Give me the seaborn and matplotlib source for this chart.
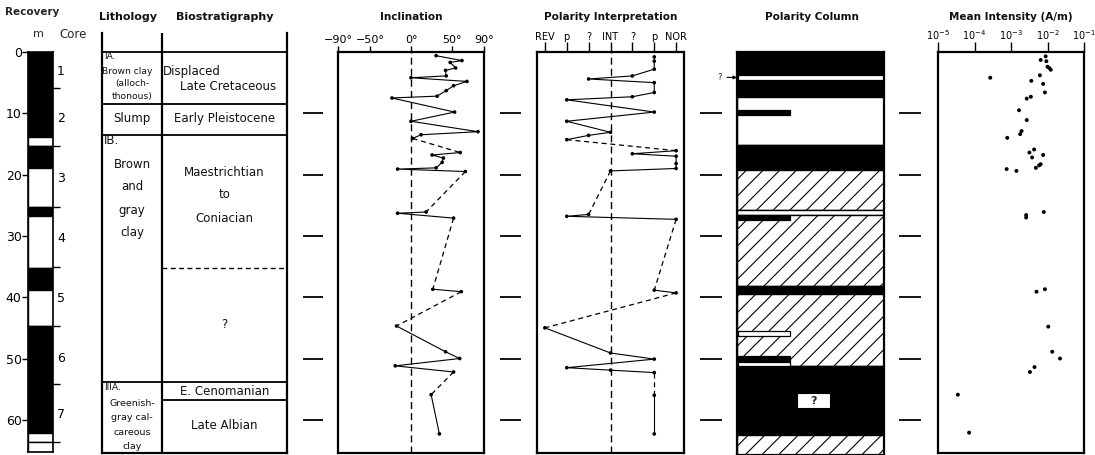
import numpy as np
import matplotlib
matplotlib.use("Agg")
import matplotlib.pyplot as plt
import seaborn as sns

sns.set_theme(style="white")
plt.rcParams["font.family"] = ["DejaVu Sans"]
plt.rcParams["hatch.linewidth"] = 0.8
plt.rcParams["hatch.color"] = "black"

W, H = 1095, 455
PX_TOP = 52.0      # pixel row of 0 m
PX_PER_M = 6.13    # pixels per metre of depth

# ---------------- depth scale ----------------
depth_ticks = [0, 10, 20, 30, 40, 50, 60]
gutter_marks = [10, 20, 30, 40, 50, 60]

# ---------------- recovery ----------------
recovery_top = [0, 13.9, 15.3, 18.9, 25.3, 26.8, 35.3, 38.9, 44.7, 62.2, 63.7]
recovery_bottom = [13.9, 15.3, 18.9, 25.3, 26.8, 35.3, 38.9, 44.7, 62.2, 63.7, 65.2]
recovery_filled = [1, 0, 1, 0, 1, 0, 1, 0, 1, 0, 0]
core_boundaries = [5.9, 15.4, 25.3, 35.1, 44.7, 54.2, 63.7]
core_numbers = ["1", "2", "3", "4", "5", "6", "7"]
core_label_depths = [2.9, 10.6, 20.4, 30.1, 39.9, 49.7, 58.9]

# ---------------- lithology / biostratigraphy ----------------
lith_bounds = [0, 8.5, 13.5, 53.9]
bio_only_bounds = [56.8]
bio_uncertain_bounds = [35.2]

# ---------------- inclination (degrees) ----------------
incl_deg = [31.0, 62.8, 48.3, 55.0, 42.6, 43.4, 0.0, 69.0, 52.5, 43.4, 32.2,
            -23.5, 53.7, 0.0, 82.6, 12.4, 2.0,
            60.7, 26.0, 40.0, 38.4, 31.0, -16.5, 67.0,
            18.6, -16.5, 52.5,
            26.9, 62.0,
            -17.8, 42.6, 60.0, -19.4, 52.5,
            24.8, 35.0]
incl_depth = [0.6, 1.4, 1.7, 2.6, 3.0, 3.9, 4.2, 4.8, 5.5, 6.3, 7.2,
              7.5, 9.8, 11.3, 13.0, 13.5, 14.1,
              16.4, 16.8, 17.3, 18.0, 18.9, 19.1, 19.5,
              26.1, 26.3, 27.1,
              38.7, 39.1,
              44.7, 48.9, 50.0, 51.2, 52.2,
              55.9, 62.3]
incl_dashed_after = [16, 23, 26, 28, 33]

# ---------------- polarity interpretation ----------------
polarity_labels = ["REV", "p", "?", "INT", "?", "p", "NOR"]
polarity_levels = [-3, -2, -1, 0, 1, 2, 3]
pol_value = [2, 2, 2, 1, -1, 2, 2, 1, -2, 2, -2, 0, -1, -2,
             3, 1, 3, 3, 3, 0,
             -1, -2, 3,
             2, 3,
             -3, 0, 2, -2, 0, 2,
             2, 2]
pol_depth = [0.8, 1.5, 2.8, 3.9, 4.4, 5.0, 6.6, 7.3, 7.8, 9.8, 11.3, 13.1, 13.6, 14.3,
             16.1, 16.6, 17.0, 18.2, 19.0, 19.4,
             26.5, 26.8, 27.3,
             38.85, 39.3,
             45.0, 49.1, 50.1, 51.5, 51.9, 52.3,
             56.0, 62.3]
pol_dashed_after = [13, 19, 22, 24, 30]

# ---------------- polarity column ----------------
# kind: "N" normal (black), "R" reversed (white), "X" uncertain (hatched)
col_top = [0, 7.3, 15.2, 19.25, 25.7, 26.6, 38.2, 39.5, 51.3, 62.5]
col_bottom = [7.3, 15.2, 19.25, 25.7, 26.6, 38.2, 39.5, 51.3, 62.5, 66.0]
col_kind = ["N", "R", "N", "X", "R", "X", "N", "X", "N", "X"]
# short partial-width bands
band_top = [3.75, 9.5, 26.7, 45.5, 49.6, 50.5]
band_bottom = [4.55, 10.3, 27.4, 46.4, 50.5, 51.3]
band_width = [0.985, 0.35, 0.35, 0.35, 0.35, 0.35]
band_kind = ["R", "N", "N", "R", "N", "R"]

# ---------------- mean intensity (A/m) ----------------
intensity = [8.9e-3, 6.5e-3, 9.3e-3, 1.0e-2, 1.12e-2, 1.23e-2, 6.2e-3, 2.7e-4,
             3.6e-3, 7.6e-3, 8.5e-3, 3.5e-3, 2.7e-3, 1.66e-3, 2.7e-3, 1.95e-3,
             1.78e-3, 7.9e-4, 4.3e-3, 3.2e-3, 7.6e-3, 3.8e-3, 6.5e-3, 5.9e-3,
             4.8e-3, 7.6e-4, 1.41e-3, 7.9e-3, 2.6e-3, 2.6e-3, 8.5e-3, 5.0e-3,
             1.05e-2, 1.35e-2, 2.2e-2, 4.4e-3, 3.3e-3, 3.5e-5, 7.1e-5]
intensity_depth = [0.7, 1.3, 1.5, 2.4, 2.6, 2.9, 3.8, 4.2, 4.7, 5.2, 6.6, 7.3,
                   7.6, 9.5, 11.1, 12.9, 13.4, 14.0, 15.9, 16.4, 16.8, 17.2,
                   18.3, 18.5, 18.9, 19.1, 19.4, 26.1, 26.6, 27.0, 38.7, 39.1,
                   44.8, 48.9, 50.0, 51.4, 52.2, 55.9, 62.1]
intensity_ticks = [1e-5, 1e-4, 1e-3, 1e-2, 1e-1]

fig = plt.figure(figsize=(W / 100, H / 100), dpi=100)
fig.patch.set_facecolor("white")


def px_axes(x0, x1, y0, y1):
    """Axes placed by pixel box, with a shared metre depth scale."""
    ax = fig.add_axes([x0 / W, 1 - y1 / H, (x1 - x0) / W, (y1 - y0) / H])
    ax.set_ylim((y1 - PX_TOP) / PX_PER_M, (y0 - PX_TOP) / PX_PER_M)
    ax.set_facecolor("white")
    return ax


def framed(ax, lw=1.6):
    for s in ax.spines.values():
        s.set_visible(True)
        s.set_linewidth(lw)
        s.set_color("black")
    ax.set_yticks([])
    ax.set_xlabel("")
    ax.set_ylabel("")


def title(x, text, size=7.5, y=17):
    fig.text(x / W, 1 - y / H, text, ha="center", va="center",
             fontsize=size, fontweight="bold", color="#111111")


def draw_trace(ax, xs, ds, dashed_after):
    xs = np.asarray(xs, dtype=float)
    ds = np.asarray(ds, dtype=float)
    cuts = [0] + [i + 1 for i in dashed_after] + [len(xs)]
    for a, b in zip(cuts[:-1], cuts[1:]):
        if b - a > 1:
            sns.lineplot(x=xs[a:b], y=ds[a:b], sort=False, estimator=None,
                         color="black", lw=0.8, ax=ax)
    for i in dashed_after:
        sns.lineplot(x=xs[i:i + 2], y=ds[i:i + 2], sort=False, estimator=None,
                     color="black", lw=0.9, ls=(0, (4, 3)), ax=ax)
    sns.scatterplot(x=xs, y=ds, s=7, color="black", edgecolor="none", ax=ax,
                    zorder=4)
    ax.set_xlabel("")
    ax.set_ylabel("")


# ---------------- gutter depth marks ----------------
for gx0, gx1 in [(303, 323), (500, 521), (700, 722), (899, 921)]:
    g = px_axes(gx0, gx1, 52, 453)
    g.set_xlim(0, 1)
    g.hlines(gutter_marks, 0, 1, color="black", lw=1.3)
    g.axis("off")

# ---------------- recovery column ----------------
rec = px_axes(28, 53, 52, 452)
for t, b, f in zip(recovery_top, recovery_bottom, recovery_filled):
    rec.bar(0, b - t, bottom=t, width=1, color="black" if f else "white",
            edgecolor="black", lw=1.0)
rec.set_xlim(-0.5, 0.5)
framed(rec, lw=1.2)
rec.set_xticks([])
rec.set_yticks(depth_ticks)
rec.set_yticklabels([str(d) for d in depth_ticks])
rec.tick_params(axis="y", left=True, direction="out", length=4, width=1.0,
                labelsize=9, pad=0.5, colors="black")
core_ax = rec.twinx()
core_ax.set_ylim(rec.get_ylim())
core_ax.set_yticks(core_boundaries)
core_ax.set_yticklabels([])
core_ax.set_yticks(core_label_depths, minor=True)
core_ax.set_yticklabels(core_numbers, minor=True)
core_ax.tick_params(axis="y", which="major", right=True, direction="out",
                    length=5, width=1.0, colors="black")
core_ax.tick_params(axis="y", which="minor", right=True, length=0, pad=3,
                    labelsize=9, labelcolor="black")
for s in core_ax.spines.values():
    s.set_visible(False)
core_ax.grid(False)
fig.text(32 / W, 1 - 12 / H, "Recovery", ha="center", va="center",
         fontsize=7.5, fontweight="bold")
fig.text(38 / W, 1 - 34 / H, "m", ha="center", va="center", fontsize=8)
fig.text(73 / W, 1 - 35 / H, "Core", ha="center", va="center", fontsize=8.5)

# ---------------- lithology & biostratigraphy ----------------
DIV = (162 - 102) / (287 - 102)
lith = px_axes(102, 287, 33, 453)
lith.set_xlim(0, 1)
framed(lith)
lith.spines["top"].set_visible(False)
lith.set_xticks([])
lith.hlines(lith_bounds, 0, 1, color="black", lw=1.3)
lith.hlines(bio_only_bounds, DIV, 1, color="black", lw=1.3)
lith.hlines(bio_uncertain_bounds, DIV, 1, color="black", lw=1.0,
            linestyles=[(0, (3.5, 2.5))])
lith.axvline(DIV, color="black", lw=1.6)

small = dict(fontsize=6.6, color="#111111")
body = dict(fontsize=8.5, color="#111111")
lith.text(0.01, 0.7, "IA.", ha="left", va="center", **small)
lith.text(0.0, 3.1, "Brown clay", ha="left", va="center", **small)
lith.text(DIV / 2, 5.2, "(alloch-", ha="center", va="center", **small)
lith.text(DIV / 2, 7.3, "thonous)", ha="center", va="center", **small)
lith.text(DIV / 2, 10.9, "Slump", ha="center", va="center", **body)
lith.text(0.01, 14.5, "IB.", ha="left", va="center", **body)
for txt, d in [("Brown", 18.3), ("and", 22.0), ("gray", 25.8), ("clay", 29.5)]:
    lith.text(DIV / 2, d, txt, ha="center", va="center", **body)
lith.text(0.01, 54.8, "IIIA.", ha="left", va="center", **small)
for txt, d in [("Greenish-", 57.3), ("gray cal-", 59.7), ("careous", 62.0),
               ("clay", 64.4)]:
    lith.text(DIV / 2, d, txt, ha="center", va="center", fontsize=6.8,
              color="#111111")

BC = (DIV + 1) / 2
lith.text(DIV + 0.005, 3.1, "Displaced", ha="left", va="center", **body)
lith.text(0.68, 5.6, "Late Cretaceous", ha="center", va="center", **body)
lith.text(BC, 10.9, "Early Pleistocene", ha="center", va="center", **body)
for txt, d in [("Maestrichtian", 19.6), ("to", 23.3), ("Coniacian", 27.1)]:
    lith.text(BC, d, txt, ha="center", va="center", **body)
lith.text(BC, 44.5, "?", ha="center", va="center", **body)
lith.text(BC, 55.4, "E. Cenomanian", ha="center", va="center", **body)
lith.text(BC, 61.0, "Late Albian", ha="center", va="center", **body)
title(128, "Lithology", size=8)
title(225, "Biostratigraphy", size=8)

# ---------------- inclination ----------------
inc = px_axes(338, 484, 52, 453)
inc.set_xlim(-90, 90)
inc.axvline(0, color="black", lw=1.0, ls=(0, (5, 3)))
draw_trace(inc, incl_deg, incl_depth, incl_dashed_after)
inc.set_xlim(-90, 90)
framed(inc)
inc.set_xticks([-90, -50, 0, 50, 90])
inc.set_xticklabels(["\u221290\u00b0", "\u221250\u00b0", "0\u00b0", "50\u00b0",
                     "90\u00b0"])
inc.tick_params(axis="x", top=True, labeltop=True, bottom=False,
                labelbottom=False, direction="out", length=4, width=1.0,
                labelsize=8, pad=1, colors="black")
title(411, "Inclination")

# ---------------- polarity interpretation ----------------
pol = px_axes(537, 684, 52, 453)
pol.set_xlim(-3.36, 3.36)
pol.axvline(0, color="black", lw=1.0, ls=(0, (5, 3)))
draw_trace(pol, pol_value, pol_depth, pol_dashed_after)
pol.set_xlim(-3.36, 3.36)
framed(pol)
pol.set_xticks(polarity_levels)
pol.set_xticklabels(polarity_labels)
pol.tick_params(axis="x", top=True, labeltop=True, bottom=False,
                labelbottom=False, direction="out", length=7, width=1.0,
                labelsize=7, pad=0.5, colors="black")
title(611, "Polarity Interpretation")

# ---------------- polarity column ----------------
col = px_axes(737, 884, 52, 455)
col.set_xlim(0, 1)
fill = {"N": ("black", ""), "R": ("white", ""), "X": ("white", "//")}
for t, b, k in zip(col_top, col_bottom, col_kind):
    fc, hatch = fill[k]
    col.bar(0, b - t, bottom=t, width=1, align="edge", color=fc, hatch=hatch,
            edgecolor="black", lw=1.0)
for t, b, w, k in zip(band_top, band_bottom, band_width, band_kind):
    fc, hatch = fill[k]
    col.bar(0.01, b - t, bottom=t, width=w, align="edge", color=fc,
            edgecolor="black", lw=0.9, zorder=3)
col.bar(0.41, 2.4, bottom=55.7, width=0.22, align="edge", color="white",
        edgecolor="black", lw=0.8, zorder=3)
col.text(0.52, 56.9, "?", ha="center", va="center", fontsize=8,
         fontweight="bold", zorder=4)
col.annotate("?", xy=(0.0, 4.15), xytext=(-0.1, 4.15), ha="right",
             va="center", fontsize=6, annotation_clip=False,
             arrowprops=dict(arrowstyle="-|>", color="black", lw=0.8,
                             mutation_scale=5, shrinkA=1, shrinkB=0))
col.set_ylim((455 - PX_TOP) / PX_PER_M, 0)
framed(col)
col.set_xticks([])
title(812, "Polarity Column")

# ---------------- mean intensity ----------------
mi = px_axes(938, 1084, 52, 453)
mi.set_xscale("log")
sns.scatterplot(x=intensity, y=intensity_depth, s=8, color="black",
                edgecolor="none", ax=mi)
mi.set_xlim(1e-5, 1e-1)
framed(mi)
mi.set_xticks(intensity_ticks)
mi.set_xticklabels([r"$10^{-5}$", r"$10^{-4}$", r"$10^{-3}$", r"$10^{-2}$",
                    r"$10^{-1}$"])
mi.xaxis.set_minor_locator(matplotlib.ticker.NullLocator())
mi.tick_params(axis="x", top=True, labeltop=True, bottom=False,
               labelbottom=False, direction="out", length=7, width=1.0,
               labelsize=7, pad=0.5, colors="black")
title(1011, "Mean Intensity (A/m)")

fig.savefig("out.png", dpi=100, facecolor="white")
